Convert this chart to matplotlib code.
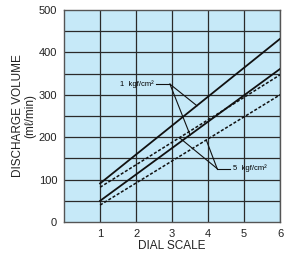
import matplotlib.pyplot as plt

plt.rcParams['font.family'] = ['Liberation Sans Narrow', 'Liberation Sans', 'DejaVu Sans']

dial = [1, 6]
solid_1kgf = [91, 432]
solid_5kgf = [50, 361]
dashed_1kgf = [82, 347]
dashed_5kgf = [40, 300]

x_ticks = [1, 2, 3, 4, 5, 6]
y_ticks = [0, 100, 200, 300, 400, 500]

fig = plt.figure(figsize=(2.9, 2.6), dpi=100)
ax = fig.add_axes([0.221, 0.146, 0.745, 0.816])
ax.set_facecolor("#c6e9f8")

# grid: verticals at every dial step, horizontals every 50
for x in x_ticks:
    ax.axvline(x, color="#2a2a2a", lw=0.9, zorder=1)
for y in range(50, 500, 50):
    ax.axhline(y, color="#2a2a2a", lw=0.9, zorder=1)

ax.plot(dial, solid_1kgf, color="#111", lw=1.3, zorder=3)
ax.plot(dial, solid_5kgf, color="#111", lw=1.3, zorder=3)
ax.plot(dial, dashed_1kgf, color="#111", lw=1.1, ls=(0, (2, 1.2)), zorder=3)
ax.plot(dial, dashed_5kgf, color="#111", lw=1.1, ls=(0, (2, 1.2)), zorder=3)

# callouts
ax.plot([2.55, 2.94], [325, 325], color="#111", lw=0.8, zorder=4)
ax.plot([2.94, 3.69], [325, 274], color="#111", lw=0.8, zorder=4)
ax.plot([2.94, 3.5], [325, 205], color="#111", lw=0.8, zorder=4)
ax.text(2.5, 325, "1  kgf/cm²", fontsize=5.5, ha="right", va="center", zorder=5)

ax.plot([4.25, 4.6], [126, 126], color="#111", lw=0.8, zorder=4)
ax.plot([4.25, 3.2], [126, 199], color="#111", lw=0.8, zorder=4)
ax.plot([4.25, 3.95], [126, 193], color="#111", lw=0.8, zorder=4)
ax.text(4.68, 126, "5  kgf/cm²", fontsize=5.5, ha="left", va="center", zorder=5)

ax.set_xlim(0, 6)
ax.set_ylim(0, 500)
ax.set_xticks(x_ticks)
ax.set_yticks(y_ticks)
ax.tick_params(length=0, labelsize=8, colors="#222", pad=5)
for s in ax.spines.values():
    s.set_color("#555")
    s.set_linewidth(1.0)

ax.set_xlabel("DIAL SCALE", fontsize=8.5, color="#222", labelpad=1)
ax.set_ylabel("DISCHARGE VOLUME\n(mℓ/min)", fontsize=8.5, color="#222",
              labelpad=2, linespacing=1.0)

fig.savefig("out.png", dpi=100)
